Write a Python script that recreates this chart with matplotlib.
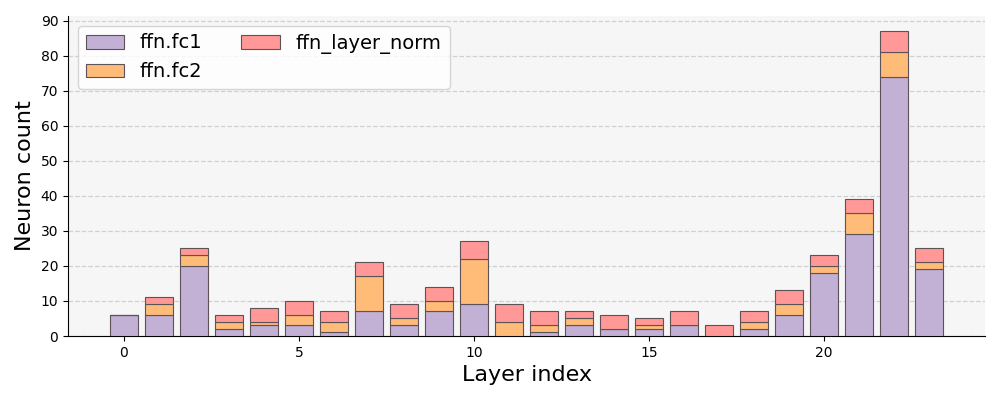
import numpy as np
import matplotlib.pyplot as plt

layers = list(range(24))
fc1 = [6, 6, 20, 2, 3, 3, 1, 7, 3, 7, 9, 0, 1, 3, 2, 2, 3, 0, 2, 6, 18, 29, 74, 19]
fc2 = [0, 3, 3, 2, 1, 3, 3, 10, 2, 3, 13, 4, 2, 2, 0, 1, 0, 0, 2, 3, 2, 6, 7, 2]
layer_norm = [0, 2, 2, 2, 4, 4, 3, 4, 4, 4, 5, 5, 4, 2, 4, 2, 4, 3, 3, 4, 3, 4, 6, 4]

fig, ax = plt.subplots(figsize=(10, 4), dpi=100)
ax.set_facecolor("#f6f6f6")

x = np.array(layers)
b1 = np.array(fc1)
b2 = np.array(fc2)
b3 = np.array(layer_norm)
edge = "#5e5259"
ax.bar(x, b1, width=0.8, color="#c3b0d5", edgecolor=edge, linewidth=0.8, label="ffn.fc1", zorder=3)
ax.bar(x, b2, width=0.8, bottom=b1, color="#ffbb78", edgecolor=edge, linewidth=0.8, label="ffn.fc2", zorder=3)
ax.bar(x, b3, width=0.8, bottom=b1 + b2, color="#ff9896", edgecolor=edge, linewidth=0.8, label="ffn_layer_norm", zorder=3)

ax.set_xlabel("Layer index", fontsize=16)
ax.set_ylabel("Neuron count", fontsize=16)
ax.set_yticks(range(0, 91, 10))
ax.grid(axis="y", linestyle="--", color="#d0d0d0", linewidth=0.9, zorder=0)
ax.spines["top"].set_visible(False)
ax.spines["right"].set_visible(False)
ax.legend(loc="upper left", ncol=2, fontsize=14)

plt.subplots_adjust(left=0.068, right=0.985, top=0.96, bottom=0.16)
plt.savefig("out.png")
